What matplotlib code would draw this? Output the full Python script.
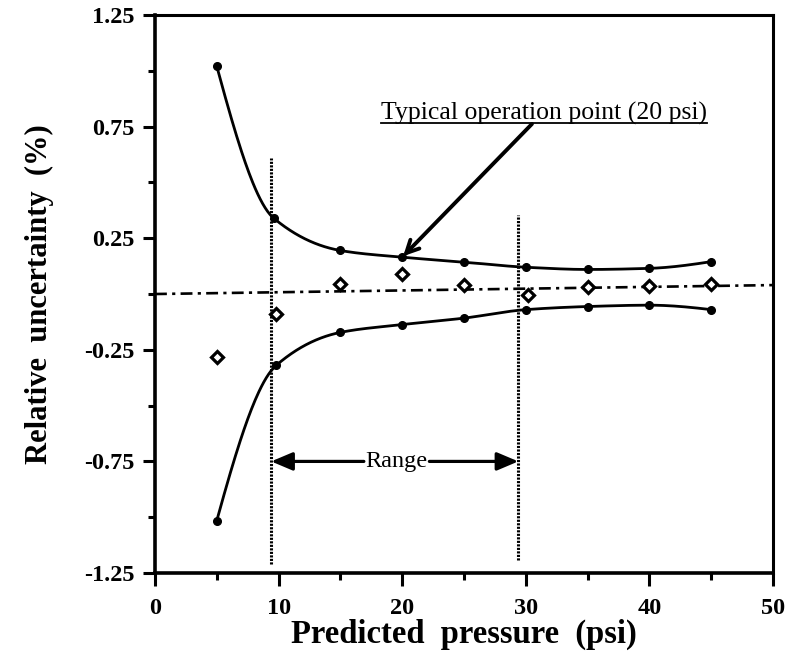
import numpy as np
import matplotlib
matplotlib.use("Agg")
import matplotlib.pyplot as plt
from matplotlib.ticker import FixedLocator

# ---- data ----
upper_x = [5, 9.6, 15, 20, 25, 30, 35, 40, 45]
upper_y = [1.02, 0.34, 0.195, 0.165, 0.143, 0.12, 0.11, 0.115, 0.145]
lower_x = [5, 9.8, 15, 20, 25, 30, 35, 40, 45]
lower_y = [-1.015, -0.32, -0.172, -0.137, -0.108, -0.07, -0.056, -0.05, -0.07]
diam_x = [5, 9.8, 15, 20, 25, 30.2, 35, 40, 45]
diam_y = [-0.283, -0.088, 0.043, 0.09, 0.04, -0.006, 0.033, 0.038, 0.043]
baseline_x = [0, 50]
baseline_y = [0.0, 0.04]
range_lo, range_hi = 9.4, 29.4
y_major = [-1.25, -0.75, -0.25, 0.25, 0.75, 1.25]
y_minor = [-1.0, -0.5, 0.0, 0.5, 1.0]
x_major = [0, 10, 20, 30, 40, 50]
x_minor = [5, 15, 25, 35, 45]
op_point = (20, 0.165)


def pchip(x, y, xn):
    x = np.asarray(x, float); y = np.asarray(y, float)
    h = np.diff(x); delta = np.diff(y) / h
    n = len(x); d = np.zeros(n)
    for k in range(1, n - 1):
        if delta[k - 1] * delta[k] > 0:
            w1 = 2 * h[k] + h[k - 1]; w2 = h[k] + 2 * h[k - 1]
            d[k] = (w1 + w2) / (w1 / delta[k - 1] + w2 / delta[k])
    def endslope(h0, h1, d0, d1):
        s = ((2 * h0 + h1) * d0 - h0 * d1) / (h0 + h1)
        if np.sign(s) != np.sign(d0):
            s = 0.0
        elif np.sign(d0) != np.sign(d1) and abs(s) > abs(3 * d0):
            s = 3 * d0
        return s
    d[0] = endslope(h[0], h[1], delta[0], delta[1])
    d[-1] = endslope(h[-1], h[-2], delta[-1], delta[-2])
    idx = np.clip(np.searchsorted(x, xn) - 1, 0, n - 2)
    t = (xn - x[idx]) / h[idx]
    h00 = 2 * t**3 - 3 * t**2 + 1; h10 = t**3 - 2 * t**2 + t
    h01 = -2 * t**3 + 3 * t**2; h11 = t**3 - t**2
    return h00 * y[idx] + h10 * h[idx] * d[idx] + h01 * y[idx + 1] + h11 * h[idx] * d[idx + 1]


plt.rcParams['font.family'] = ['Liberation Serif', 'DejaVu Serif']
fig = plt.figure(figsize=(8.01, 6.56), dpi=100)
ax = fig.add_axes([0.1935, 0.1265, 0.7715, 0.8506])
ax.set_xlim(0, 50)
ax.set_ylim(-1.25, 1.25)

# smooth curves through points
xu = np.linspace(upper_x[0], upper_x[-1], 400)
ax.plot(xu, pchip(upper_x, upper_y, xu), color='black', lw=2.0)
xl = np.linspace(lower_x[0], lower_x[-1], 400)
ax.plot(xl, pchip(lower_x, lower_y, xl), color='black', lw=2.0)
ax.plot(upper_x, upper_y, 'o', color='black', ms=5.5)
ax.plot(lower_x, lower_y, 'o', color='black', ms=5.5)
ax.plot(diam_x, diam_y, 'D', mfc='white', mec='black', mew=2.3, ms=6, zorder=5)

# reference line
ax.plot(baseline_x, baseline_y, color='black', lw=1.9, ls=(0, (4.5, 2, 1.2, 2)))

# range lines
ax.plot([range_lo, range_lo], [-1.21, 0.61], color='black', lw=2.2, ls=(0, (0.7, 0.45)))
ax.plot([range_hi, range_hi], [-1.19, 0.355], color='black', lw=2.2, ls=(0, (0.7, 0.45)))

ax.text(19.5, -0.75, 'Range', ha='center', va='center', fontsize=17.5)
astyle = dict(arrowstyle='-|>,head_length=1.3,head_width=0.55', color='black', lw=2.3,
              shrinkA=0, shrinkB=0)
ax.annotate('', xy=(range_lo, -0.75), xytext=(16.9, -0.75), arrowprops=astyle)
ax.annotate('', xy=(range_hi, -0.75), xytext=(22.2, -0.75), arrowprops=astyle)

# typical operation point annotation
ax.text(18.3, 0.782, 'Typical operation point (20 psi)', ha='left', va='baseline',
        fontsize=18.5)
ax.plot([18.3, 44.7], [0.766, 0.766], color='black', lw=1.3)
ax.annotate('', xy=op_point, xytext=(30.5, 0.762),
            arrowprops=dict(arrowstyle='->,head_length=0.9,head_width=0.45', color='black',
                            lw=2.8, shrinkA=0, shrinkB=1))

# axes styling
for side, lw in [('left', 2.6), ('bottom', 2.6), ('top', 2.2), ('right', 2.2)]:
    ax.spines[side].set_linewidth(lw)
ax.yaxis.set_major_locator(FixedLocator(y_major))
ax.yaxis.set_minor_locator(FixedLocator(y_minor))
ax.xaxis.set_major_locator(FixedLocator(x_major))
ax.xaxis.set_minor_locator(FixedLocator(x_minor))
ax.set_yticklabels(['-1.25', '-0.75', '-0.25', '0.25', '0.75', '1.25'])
ax.set_xticklabels([str(v) for v in x_major])
ax.tick_params(axis='both', which='major', direction='out', length=9, width=2.2,
               labelsize=17.5, pad=6)
ax.tick_params(axis='both', which='minor', direction='out', length=5, width=2.2)
for lab in ax.get_xticklabels() + ax.get_yticklabels():
    lab.set_fontweight('bold')
ax.tick_params(axis='x', which='major', pad=9)

ax.set_xlabel('Predicted  pressure  (psi)', fontsize=23.5, fontweight='bold', labelpad=0)
ax.set_ylabel('Relative  uncertainty  (%)', fontsize=22, fontweight='bold', labelpad=21)

fig.savefig('out.png', dpi=100)
